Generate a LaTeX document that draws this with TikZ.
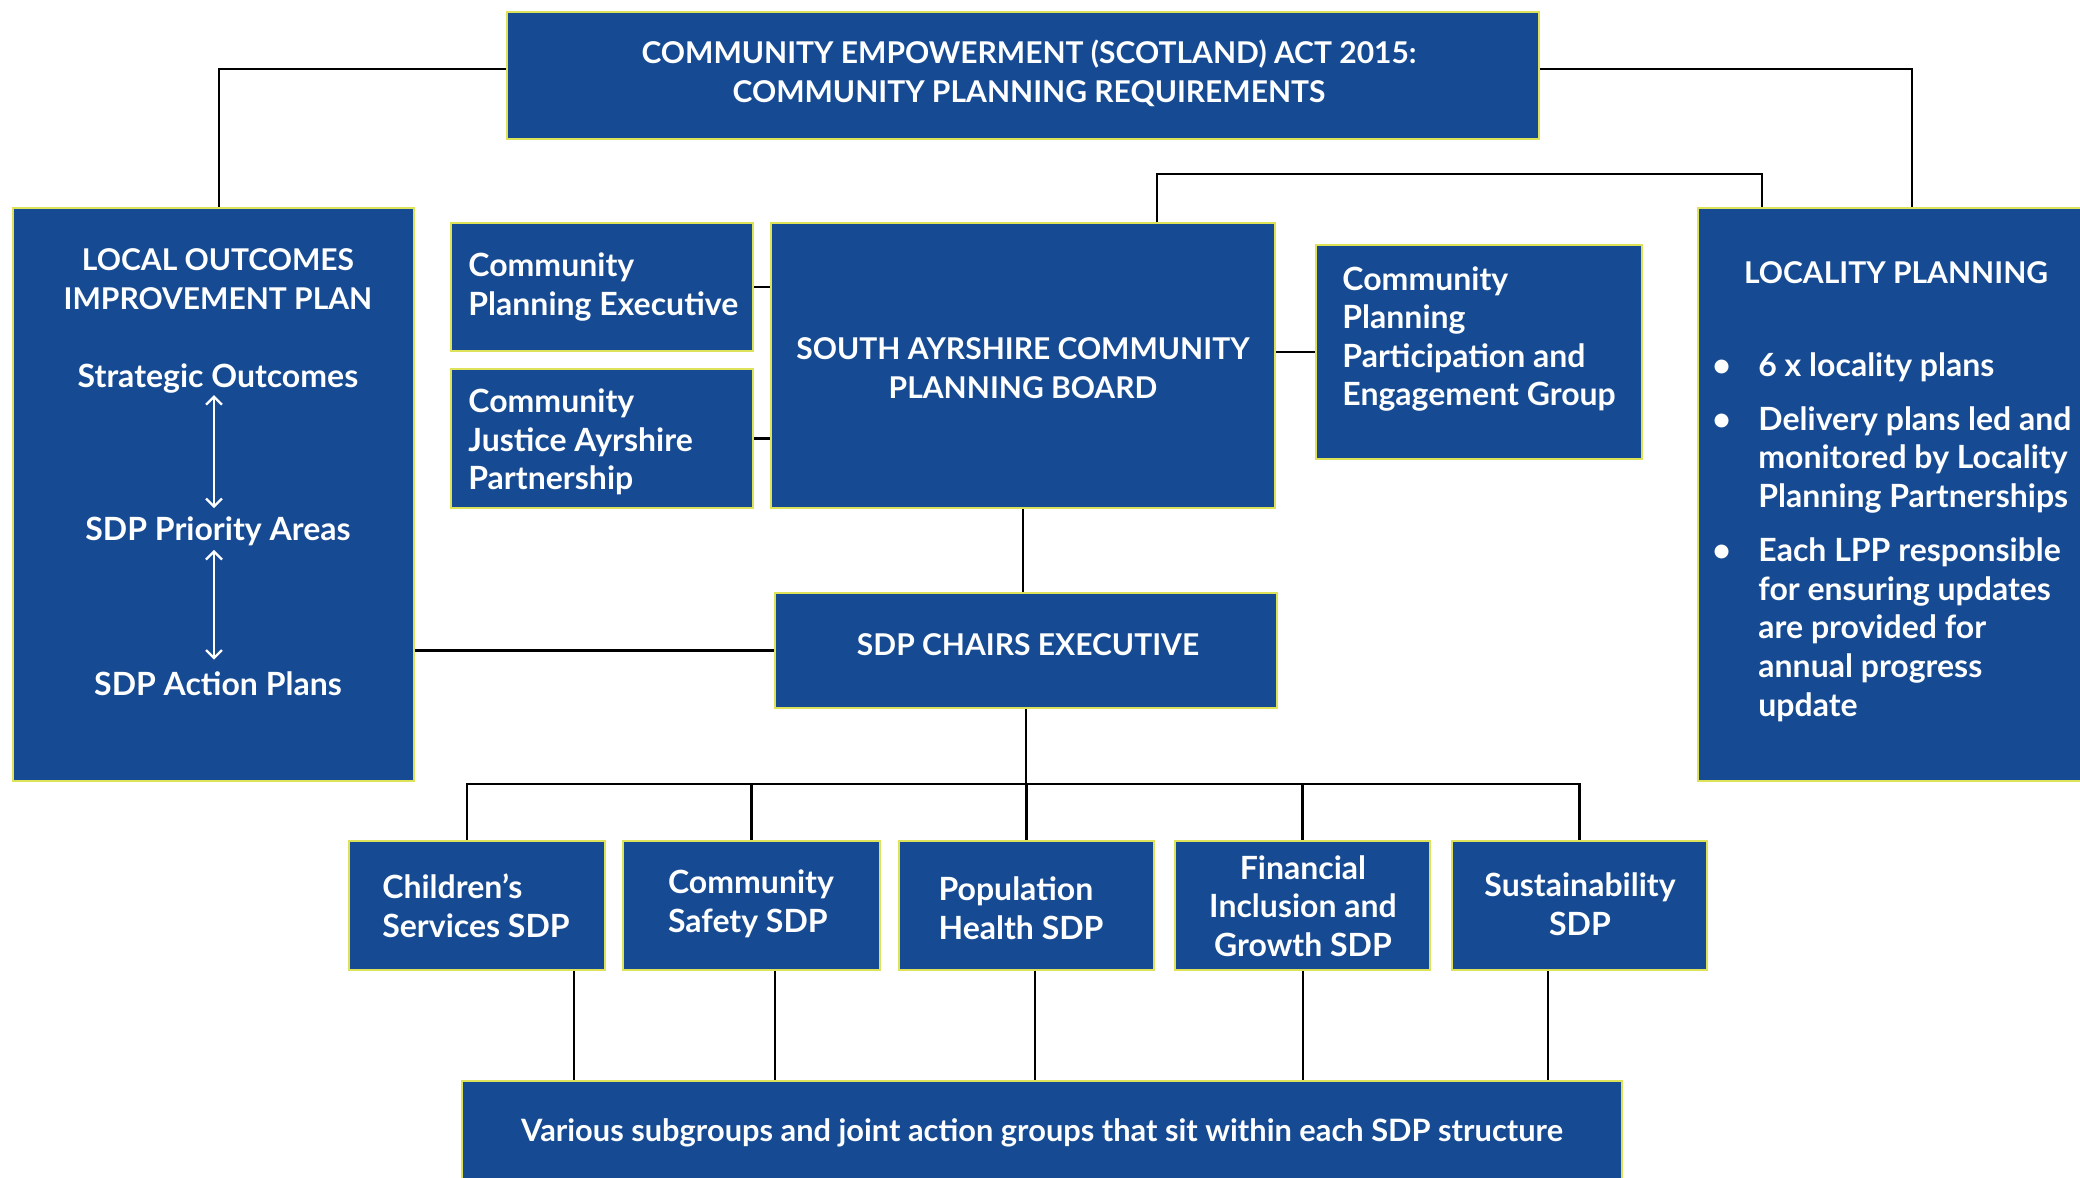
\documentclass[tikz,border=0pt]{standalone}
\usepackage{fontspec}
\setmainfont{Lato}
\usetikzlibrary{fit,calc,arrows.meta}
\definecolor{boxblue}{RGB}{22,75,148}
\definecolor{boxedge}{RGB}{222,226,88}
\begin{document}
\begin{tikzpicture}[x=0.5pt,y=-0.5pt,
  txt/.style={font=\fontsize{16}{19.3}\selectfont\bfseries},
  caps/.style={font=\fontsize{15}{19.5}\selectfont\bfseries},
  box/.style={draw=boxedge, fill=boxblue, line width=1.4pt, inner sep=0pt},
  lbl/.style={text=white, inner sep=0pt, txt},
  conn/.style={black, line width=1.2pt},
  dbl/.style={white, line width=1.1pt, {Straight Barb[length=4pt,width=8pt]}-{Straight Barb[length=4pt,width=8pt]}}
]
\useasboundingbox (0,0) rectangle (2080,1177);
\clip (0,0) rectangle (2080,1177);
\fill[white] (0,0) rectangle (2080,1177);

% ---------- boxes ----------
\node[box, fit={(507,12) (1539,139)}] (top) {};
\node[box, fit={(13,208) (414,781)}] (loip) {};
\node[box, fit={(451,223) (753,351)}] (cpe) {};
\node[box, fit={(451,369) (753,508)}] (cjap) {};
\node[box, fit={(771,223) (1275,508)}] (sab) {};
\node[box, fit={(1316,245) (1642,459)}] (cppeg) {};
\node[box, fit={(1698,208) (2100,781)}] (loc) {};
\node[box, fit={(775,593) (1277,708)}] (chairs) {};
\node[box, fit={(349,841) (605,970)}] (sdp1) {};
\node[box, fit={(623,841) (880,970)}] (sdp2) {};
\node[box, fit={(899,841) (1154,970)}] (sdp3) {};
\node[box, fit={(1175,841) (1430,970)}] (sdp4) {};
\node[box, fit={(1452,841) (1707,970)}] (sdp5) {};
\node[box, fit={(462,1081) (1622,1180)}] (bot) {};

% ---------- texts ----------
\node[lbl, caps, align=center] (topt) at (1029,73)
  {COMMUNITY EMPOWERMENT (SCOTLAND) ACT 2015:\\COMMUNITY PLANNING REQUIREMENTS};
\node[lbl, caps, align=center] (sabt) at (1023,368)
  {SOUTH AYRSHIRE COMMUNITY\\PLANNING BOARD};
\node[lbl, caps] (chairst) at (1028,645) {SDP CHAIRS EXECUTIVE};
\node[lbl, anchor=west, align=left] (cpet) at (468,287) {Community\\Planning Executive};
\node[lbl, anchor=west, align=left] (cjapt) at (468,442) {Community\\Justice Ayrshire\\Partnership};
\node[lbl, anchor=west, align=left] (cppegt) at (1342,339)
  {Community\\Planning\\Participation and\\Engagement Group};

\node[lbl, align=left] (sdp1t) at (476,906) {Children’s\\Services SDP};
\node[lbl, align=left] (sdp2t) at (751,904) {Community\\Safety SDP};
\node[lbl, align=left] (sdp3t) at (1021,908) {Population\\Health SDP};
\node[lbl, align=center] (sdp4t) at (1303,906) {Financial\\Inclusion and\\Growth SDP};
\node[lbl, align=center] (sdp5t) at (1580,904) {Sustainability\\SDP};
\node[lbl, font=\fontsize{15.4}{19}\selectfont\bfseries] (bott) at (1042,1133)
  {Various subgroups and joint action groups that sit within each SDP structure};

\node[lbl, caps, align=center] (loiph) at (218,279) {LOCAL OUTCOMES\\IMPROVEMENT PLAN};
\node[lbl] (so) at (218,379) {Strategic Outcomes};
\node[lbl] (spa) at (218,531) {SDP Priority Areas};
\node[lbl] (sap) at (218,684) {SDP Action Plans};

\node[lbl, caps] (loch) at (1896,273) {LOCALITY PLANNING};
\node[lbl, anchor=base west] (locl) at (1712,376) {%
  \begin{tabular}[t]{@{}p{23pt}@{}l@{}}
  \textbullet & 6 x locality plans\\[7.8pt]
  \textbullet & Delivery plans led and\\
              & monitored by Locality\\
              & Planning Partnerships\\[7.8pt]
  \textbullet & Each LPP responsible\\
              & for ensuring updates\\
              & are provided for\\
              & annual progress\\
              & update
  \end{tabular}};

% ---------- white arrows in LOIP ----------
\coordinate (ax) at (214,0);
\draw[dbl, shorten <=0.5pt, shorten >=4pt] (so.south -| ax) -- (spa.north -| ax);
\draw[dbl, shorten <=2pt, shorten >=6pt] (spa.south -| ax) -- (sap.north -| ax);

% ---------- connectors ----------
\coordinate (lt) at (219,69);
\coordinate (rt) at (1912,69);
\draw[conn] (top.west |- lt) -| (loip.north -| lt);
\draw[conn] (top.east |- rt) -| (loc.north -| rt);

\coordinate (sj) at (1157,174);
\coordinate (lj) at (1762,174);
\draw[conn] (sab.north -| sj) -- (sj) -- (lj) -- (loc.north -| lj);

\draw[conn] (cpe.east) -- (cpe.east -| sab.west);
\draw[conn] (cjap.east) -- (cjap.east -| sab.west);
\draw[conn] (cppeg.west) -- (cppeg.west -| sab.east);
\draw[conn] (sab.south) -- (sab.south |- chairs.north);
\draw[conn] (chairs.west) -- (chairs.west -| loip.east);

\coordinate (bus) at (0,784);
\coordinate (d1) at (467,0);
\draw[conn] (chairs.south) -- (chairs.south |- bus);
\draw[conn] (sdp1.north -| d1) -- (bus -| d1) -- (bus -| sdp5.north) -- (sdp5.north);
\draw[conn] (sdp2.north) -- (sdp2.north |- bus);
\draw[conn] (sdp3.north) -- (sdp3.north |- bus);
\draw[conn] (sdp4.north) -- (sdp4.north |- bus);

\coordinate (b1) at (574,0);
\coordinate (b2) at (775,0);
\coordinate (b3) at (1035,0);
\coordinate (b4) at (1303,0);
\coordinate (b5) at (1548,0);
\draw[conn] (sdp1.south -| b1) -- (bot.north -| b1);
\draw[conn] (sdp2.south -| b2) -- (bot.north -| b2);
\draw[conn] (sdp3.south -| b3) -- (bot.north -| b3);
\draw[conn] (sdp4.south -| b4) -- (bot.north -| b4);
\draw[conn] (sdp5.south -| b5) -- (bot.north -| b5);
\end{tikzpicture}
\end{document}
